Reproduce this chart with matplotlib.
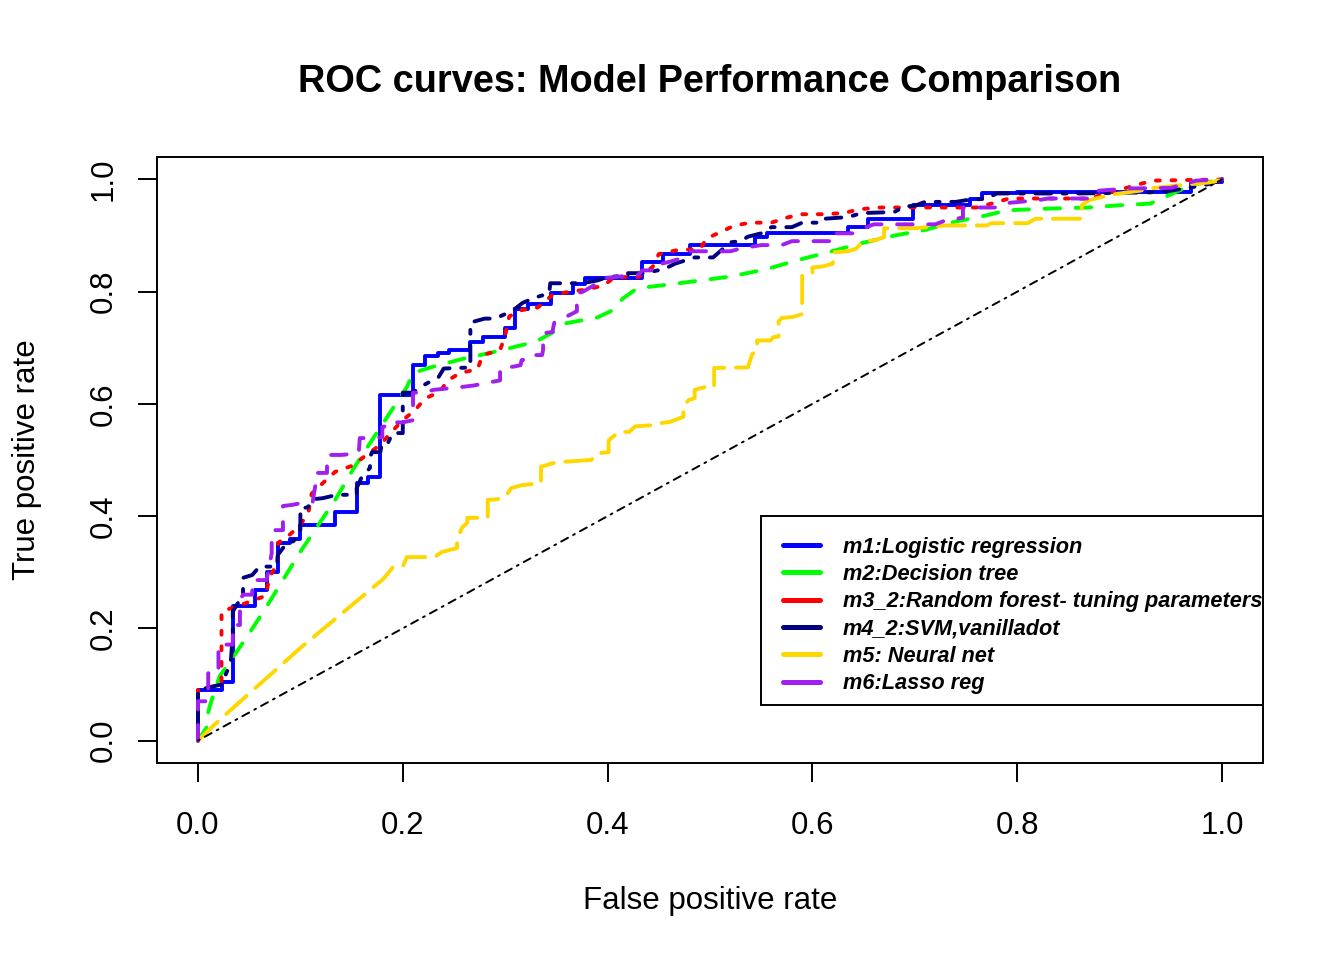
import matplotlib
matplotlib.use("Agg")
import matplotlib.pyplot as plt
from matplotlib.lines import Line2D
from matplotlib.patches import Rectangle
from matplotlib.font_manager import FontProperties

# m1: logistic regression
m1_fpr = [0, 0, 0.023, 0.023, 0.034, 0.034, 0.056, 0.056, 0.067, 0.067, 0.078, 0.078,
          0.09, 0.09, 0.1, 0.1, 0.134, 0.134, 0.155, 0.155, 0.166, 0.166, 0.178, 0.178,
          0.21, 0.21, 0.222, 0.222, 0.234, 0.234, 0.245, 0.245, 0.266, 0.266, 0.278, 0.278,
          0.3, 0.3, 0.31, 0.31, 0.322, 0.322, 0.345, 0.345, 0.366, 0.366, 0.378, 0.378,
          0.434, 0.434, 0.454, 0.454, 0.48, 0.48, 0.544, 0.544, 0.556, 0.556, 0.635, 0.635,
          0.654, 0.654, 0.698, 0.698, 0.754, 0.754, 0.766, 0.766, 0.80, 0.80, 0.97, 0.97, 1, 1]
m1_tpr = [0, 0.09, 0.09, 0.105, 0.105, 0.24, 0.24, 0.269, 0.269, 0.30, 0.30, 0.352,
          0.352, 0.36, 0.36, 0.384, 0.384, 0.408, 0.408, 0.459, 0.459, 0.47, 0.47, 0.615,
          0.615, 0.67, 0.67, 0.685, 0.685, 0.69, 0.69, 0.696, 0.696, 0.71, 0.71, 0.72,
          0.72, 0.735, 0.735, 0.77, 0.77, 0.778, 0.778, 0.798, 0.798, 0.813, 0.813, 0.825,
          0.825, 0.852, 0.852, 0.868, 0.868, 0.883, 0.883, 0.897, 0.897, 0.904, 0.904, 0.915,
          0.915, 0.93, 0.93, 0.954, 0.954, 0.966, 0.966, 0.975, 0.975, 0.977, 0.977, 0.995, 0.995, 1]

# m2: decision tree
m2_fpr = [0, 0.009, 0.01, 0.012, 0.021, 0.029, 0.046, 0.064, 0.082, 0.098, 0.116, 0.134,
          0.151, 0.168, 0.186, 0.204, 0.21, 0.227, 0.258, 0.288, 0.319, 0.332, 0.347, 0.36,
          0.39, 0.405, 0.415, 0.429, 0.47, 0.52, 0.555, 0.585, 0.615, 0.647, 0.68, 0.71,
          0.74, 0.77, 0.79, 0.83, 0.87, 0.9, 0.93, 0.97, 1]
m2_tpr = [0, 0.025, 0.05, 0.064, 0.114, 0.135, 0.18, 0.23, 0.283, 0.331, 0.38, 0.429,
          0.482, 0.53, 0.58, 0.63, 0.655, 0.665, 0.68, 0.692, 0.706, 0.713, 0.728, 0.744,
          0.754, 0.767, 0.788, 0.806, 0.815, 0.827, 0.84, 0.856, 0.87, 0.886, 0.90, 0.91,
          0.925, 0.936, 0.945, 0.948, 0.95, 0.954, 0.957, 0.99, 1]

# m3_2: random forest (tuned)
m3_fpr = [0, 0, 0.023, 0.023, 0.05, 0.066, 0.07, 0.078, 0.078, 0.089, 0.1, 0.108, 0.111,
          0.122, 0.134, 0.151, 0.163, 0.178, 0.189, 0.2, 0.212, 0.222, 0.236, 0.244, 0.256,
          0.273, 0.278, 0.295, 0.3, 0.304, 0.316, 0.332, 0.346, 0.363, 0.38, 0.396, 0.407,
          0.43, 0.444, 0.45, 0.468, 0.49, 0.497, 0.51, 0.524, 0.54, 0.56, 0.575, 0.59, 0.61,
          0.63, 0.647, 0.666, 0.76, 0.775, 0.792, 0.87, 0.922, 0.935, 1]
m3_tpr = [0, 0.09, 0.1, 0.23, 0.247, 0.258, 0.292, 0.316, 0.352, 0.366, 0.384, 0.408, 0.44,
          0.459, 0.479, 0.49, 0.507, 0.527, 0.55, 0.571, 0.589, 0.61, 0.621, 0.642, 0.655,
          0.662, 0.687, 0.696, 0.722, 0.756, 0.767, 0.772, 0.794, 0.8, 0.804, 0.811, 0.826,
          0.826, 0.844, 0.867, 0.874, 0.876, 0.895, 0.906, 0.918, 0.923, 0.923, 0.932, 0.938, 0.938,
          0.94, 0.947, 0.95, 0.95, 0.957, 0.966, 0.966, 0.993, 0.998, 1]

# m4_2: SVM, vanilladot
m4_fpr = [0, 0, 0.023, 0.032, 0.034, 0.034, 0.044, 0.044, 0.053, 0.06, 0.077, 0.078, 0.088,
          0.093, 0.1, 0.1, 0.107, 0.112, 0.122, 0.136, 0.155, 0.155, 0.16, 0.168, 0.168, 0.17,
          0.178, 0.18, 0.186, 0.19, 0.2, 0.2, 0.21, 0.217, 0.224, 0.235, 0.24, 0.254, 0.266,
          0.266, 0.28, 0.29, 0.3, 0.31, 0.317, 0.33, 0.343, 0.344, 0.375, 0.39, 0.4, 0.42,
          0.42, 0.435, 0.455, 0.466, 0.485, 0.503, 0.52, 0.53, 0.537, 0.55, 0.56, 0.58, 0.59,
          0.61, 0.612, 0.635, 0.648, 0.68, 0.69, 0.7, 0.71, 0.74, 0.75, 0.77, 0.78, 0.86,
          0.93, 0.95, 0.963, 0.98, 0.99, 1]
m4_tpr = [0, 0.09, 0.1, 0.139, 0.19, 0.23, 0.26, 0.29, 0.295, 0.31, 0.31, 0.331, 0.355,
          0.355, 0.37, 0.415, 0.415, 0.43, 0.432, 0.438, 0.438, 0.45, 0.47, 0.486, 0.505, 0.514,
          0.514, 0.532, 0.532, 0.548, 0.548, 0.62, 0.62, 0.63, 0.637, 0.648, 0.663, 0.664, 0.665,
          0.745, 0.752, 0.752, 0.76, 0.77, 0.78, 0.79, 0.797, 0.815, 0.815, 0.82, 0.826, 0.829,
          0.833, 0.833, 0.84, 0.85, 0.861, 0.861, 0.888, 0.89, 0.898, 0.904, 0.915, 0.915, 0.923,
          0.923, 0.93, 0.933, 0.94, 0.942, 0.952, 0.953, 0.96, 0.96, 0.963, 0.966, 0.975, 0.975,
          0.977, 0.98, 0.984, 0.989, 0.993, 1]

# m5: neural net
m5_fpr = [0, 0.02, 0.1, 0.181, 0.19, 0.2, 0.204, 0.231, 0.238, 0.253, 0.253, 0.258, 0.263,
          0.263, 0.283, 0.283, 0.292, 0.3, 0.306, 0.316, 0.335, 0.335, 0.348, 0.358, 0.384,
          0.39, 0.401, 0.401, 0.411, 0.421, 0.427, 0.444, 0.453, 0.461, 0.474, 0.474, 0.479,
          0.485, 0.485, 0.495, 0.504, 0.504, 0.537, 0.541, 0.546, 0.546, 0.559, 0.562, 0.567,
          0.567, 0.57, 0.581, 0.59, 0.59, 0.6, 0.6, 0.61, 0.62, 0.62, 0.635, 0.643, 0.65, 0.66,
          0.67, 0.67, 0.7, 0.73, 0.77, 0.775, 0.81, 0.818, 0.863, 0.863, 0.87, 0.89, 0.9, 0.92,
          0.93, 0.96, 0.99, 1]
m5_tpr = [0, 0.035, 0.165, 0.288, 0.308, 0.31, 0.327, 0.327, 0.336, 0.343, 0.358, 0.38, 0.388,
          0.397, 0.397, 0.429, 0.43, 0.434, 0.45, 0.455, 0.459, 0.488, 0.495, 0.497, 0.5,
          0.512, 0.514, 0.535, 0.55, 0.55, 0.56, 0.562, 0.566, 0.568, 0.577, 0.594, 0.607,
          0.61, 0.625, 0.63, 0.63, 0.664, 0.665, 0.688, 0.696, 0.713, 0.713, 0.719, 0.72,
          0.747, 0.753, 0.755, 0.76, 0.829, 0.833, 0.843, 0.845, 0.85, 0.87, 0.872, 0.877, 0.891, 0.891,
          0.897, 0.913, 0.913, 0.918, 0.918, 0.922, 0.922, 0.93, 0.93, 0.954, 0.963, 0.972, 0.975, 0.98,
          0.984, 0.99, 0.995, 1]

# m6: lasso regression
m6_fpr = [0, 0, 0.01, 0.01, 0.02, 0.02, 0.034, 0.034, 0.041, 0.041, 0.044, 0.053, 0.053, 0.067,
          0.072, 0.072, 0.073, 0.083, 0.083, 0.092, 0.1, 0.112, 0.115, 0.115, 0.126, 0.126, 0.14,
          0.157, 0.158, 0.172, 0.18, 0.18, 0.19, 0.19, 0.2, 0.21, 0.21, 0.22, 0.23, 0.257, 0.27,
          0.295, 0.295, 0.31, 0.315, 0.316, 0.324, 0.326, 0.336, 0.337, 0.337, 0.346, 0.348,
          0.357, 0.37, 0.37, 0.376, 0.39, 0.395, 0.43, 0.434, 0.45, 0.453, 0.462, 0.473, 0.481,
          0.52, 0.53, 0.55, 0.57, 0.58, 0.62, 0.62, 0.64, 0.65, 0.66, 0.72, 0.73, 0.747, 0.747,
          0.78, 0.79, 0.82, 0.83, 0.87, 0.873, 0.88, 0.91, 0.95, 0.96, 0.975, 1]
m6_tpr = [0, 0.07, 0.07, 0.12, 0.12, 0.171, 0.171, 0.206, 0.206, 0.25, 0.26, 0.26, 0.286, 0.286,
          0.334, 0.366, 0.375, 0.375, 0.418, 0.42, 0.423, 0.425, 0.459, 0.477, 0.477, 0.509, 0.509,
          0.512, 0.539, 0.539, 0.541, 0.559, 0.562, 0.567, 0.567, 0.571, 0.62, 0.62, 0.625, 0.63, 0.633,
          0.642, 0.663, 0.667, 0.669, 0.678, 0.68, 0.687, 0.687, 0.696, 0.726, 0.728, 0.745,
          0.753, 0.765, 0.797, 0.8, 0.815, 0.824, 0.83, 0.838, 0.838, 0.85, 0.854, 0.86, 0.872,
          0.872, 0.877, 0.883, 0.883, 0.89, 0.89, 0.904, 0.904, 0.913, 0.92, 0.92, 0.927, 0.932, 0.95,
          0.95, 0.958, 0.963, 0.966, 0.966, 0.977, 0.98, 0.984, 0.985, 0.99, 0.998, 1]

labels = ["m1:Logistic regression", "m2:Decision tree",
          "m3_2:Random forest- tuning parameters", "m4_2:SVM,vanilladot",
          "m5: Neural net", "m6:Lasso reg"]
colors = ["#0000FF", "#00FF00", "#FF0000", "#000080", "#FFD700", "#A020F0"]
# R lty patterns (solid, dashed, dotted, dotdash, longdash, dashed)
styles = ["-", (0, (4, 4)), (0, (1, 3)), (0, (1, 3, 4, 3)), (0, (7, 3)), (0, (4, 4))]
ticks = [0.0, 0.2, 0.4, 0.6, 0.8, 1.0]


def main():
    plt.rcParams["font.family"] = ["Liberation Sans", "DejaVu Sans"]
    fig = plt.figure(figsize=(13.44, 9.6), dpi=100)
    ax = fig.add_axes([157 / 1344, 1 - 763 / 960, 1106 / 1344, 606 / 960])

    curves = [(m1_fpr, m1_tpr), (m2_fpr, m2_tpr), (m3_fpr, m3_tpr),
              (m4_fpr, m4_tpr), (m5_fpr, m5_tpr), (m6_fpr, m6_tpr)]
    for (x, y), c, ls in zip(curves, colors, styles):
        ax.plot(x, y, color=c, lw=2.8, linestyle=ls,
                dash_capstyle="round", solid_capstyle="round")

    # reference diagonal
    ax.plot([0, 1], [0, 1], color="black", lw=1.4, linestyle=(0, (1, 3, 4, 3)),
            dash_capstyle="round")

    ax.set_xlim(-0.04, 1.04)
    ax.set_ylim(-0.04, 1.04)
    ax.set_xticks(ticks)
    ax.set_yticks(ticks)
    ax.set_xticklabels([f"{t:.1f}" for t in ticks])
    ax.set_yticklabels([f"{t:.1f}" for t in ticks])
    ax.tick_params(axis="both", direction="out", length=13.7, width=1.4, labelsize=22.5)
    ax.tick_params(axis="x", pad=20.5)
    ax.tick_params(axis="y", pad=14, labelrotation=90)
    for lab in ax.get_yticklabels():
        lab.set_verticalalignment("center")
    for sp in ax.spines.values():
        sp.set_linewidth(1.4)

    fig.text(710 / 1344, 1 - 92 / 960, "ROC curves: Model Performance Comparison",
             ha="center", va="baseline", fontsize=27.3, fontweight="bold")
    fig.text(710 / 1344, 1 - 909 / 960, "False positive rate",
             ha="center", va="baseline", fontsize=22.5)
    fig.text(27 / 1344, 1 - 460 / 960, "True positive rate",
             ha="center", va="center", rotation=90, fontsize=22.5)

    # legend box
    ax.add_patch(Rectangle((0.55, 0.064), 0.49, 0.336, facecolor="white",
                           edgecolor="black", lw=1.4, zorder=3, clip_on=False))
    handles = [Line2D([], [], color=c, lw=3.6, solid_capstyle="round") for c in colors]
    leg = ax.legend(handles, labels, loc="upper left", bbox_to_anchor=(0.5708, 0.3635),
                    bbox_transform=ax.transData, frameon=False, borderpad=0,
                    borderaxespad=0, handlelength=1.74, handletextpad=1.03,
                    labelspacing=0.29,
                    prop=FontProperties(family="Liberation Sans", weight="bold",
                                        style="italic", size=15.7))
    leg.set_zorder(4)

    fig.savefig("out.png", dpi=100)


if __name__ == '__main__':
    main()
